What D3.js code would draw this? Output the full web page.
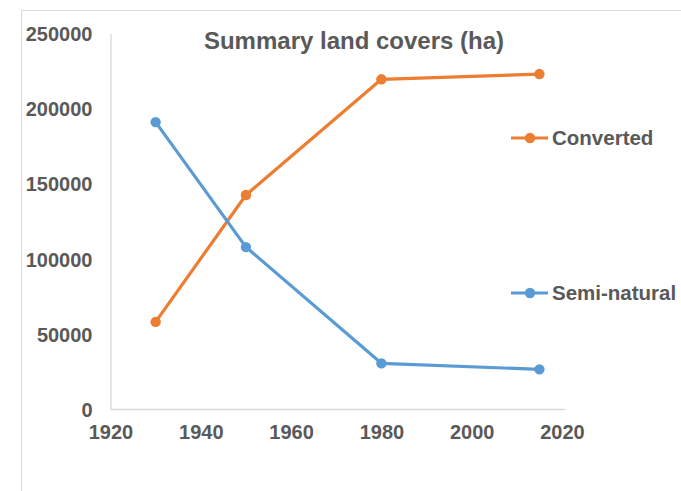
<!DOCTYPE html>
<html>
<head>
<meta charset="utf-8">
<script src="https://cdn.jsdelivr.net/npm/d3@7"></script>
<style>
  html, body { margin: 0; padding: 0; background: #fff; }
  svg { display: block; }
  text { font-family: "Liberation Sans", Arial, sans-serif; font-weight: bold; fill: #595959; }
</style>
</head>
<body>
<svg id="chart" width="681" height="491"></svg>
<script>
// Land cover totals (ha) by survey year
const years = [1930, 1950, 1980, 2015];
const converted = [58000, 142500, 219500, 223000];
const semiNatural = [191000, 107800, 30400, 26400];
const seriesNames = ["Converted", "Semi-natural"];
const seriesColors = ["#ED7D31", "#5B9BD5"];
const yTicks = [0, 50000, 100000, 150000, 200000, 250000];
const xTicks = [1920, 1940, 1960, 1980, 2000, 2020];
const title = "Summary land covers (ha)";

const svg = d3.select("#chart");

// chart frame
svg.append("rect")
  .attr("x", 21.5).attr("y", 10.5)
  .attr("width", 700).attr("height", 520)
  .attr("fill", "none").attr("stroke", "#d9d9d9").attr("stroke-width", 1);

const x = d3.scaleLinear().domain([1920, 2020]).range([110.5, 562]);
const y = d3.scaleLinear().domain([0, 250000]).range([409, 33.5]);

// axes
const yAxis = svg.append("g").attr("transform", "translate(110.5,0)")
  .call(d3.axisLeft(y).tickValues(yTicks).tickSize(0).tickPadding(18).tickFormat(d3.format("d")));
const xAxis = svg.append("g").attr("transform", "translate(0,409)")
  .call(d3.axisBottom(x).tickValues(xTicks).tickSize(0).tickPadding(16).tickFormat(d3.format("d")));

[yAxis, xAxis].forEach(g => {
  g.select(".domain").attr("stroke", "#d9d9d9").attr("stroke-width", 1.3);
  g.selectAll("text").attr("font-size", 20).attr("fill", "#595959")
    .attr("font-family", "Liberation Sans, Arial, sans-serif").attr("font-weight", "bold");
});
xAxis.select(".domain").attr("d", `M${x(1920)},0.5H565`);
yAxis.selectAll(".tick text").attr("dy", "0.36em");

// title
svg.append("text")
  .attr("x", 354).attr("y", 49)
  .attr("text-anchor", "middle")
  .attr("font-size", 24)
  .text(title);

// series lines and markers
const allSeries = [converted, semiNatural];
const line = d3.line().x((d, i) => x(years[i])).y(d => y(d));

allSeries.forEach((vals, s) => {
  svg.append("path")
    .datum(vals)
    .attr("d", line)
    .attr("fill", "none")
    .attr("stroke", seriesColors[s])
    .attr("stroke-width", 3.2)
    .attr("stroke-linejoin", "round");
  svg.selectAll(null)
    .data(vals)
    .enter().append("circle")
    .attr("cx", (d, i) => x(years[i]))
    .attr("cy", d => y(d))
    .attr("r", 5.2)
    .attr("fill", seriesColors[s]);
});

// legend placed beside the plot
const legendY = [138, 293];
seriesNames.forEach((name, s) => {
  const g = svg.append("g").attr("transform", `translate(0,${legendY[s]})`);
  g.append("line").attr("x1", 511).attr("x2", 548).attr("y1", 0).attr("y2", 0)
    .attr("stroke", seriesColors[s]).attr("stroke-width", 3.2);
  g.append("circle").attr("cx", 530).attr("cy", 0).attr("r", 5.2).attr("fill", seriesColors[s]);
  g.append("text").attr("x", 552).attr("y", 0).attr("dy", "0.36em")
    .attr("font-size", 20.5).text(name);
});
</script>
</body>
</html>
